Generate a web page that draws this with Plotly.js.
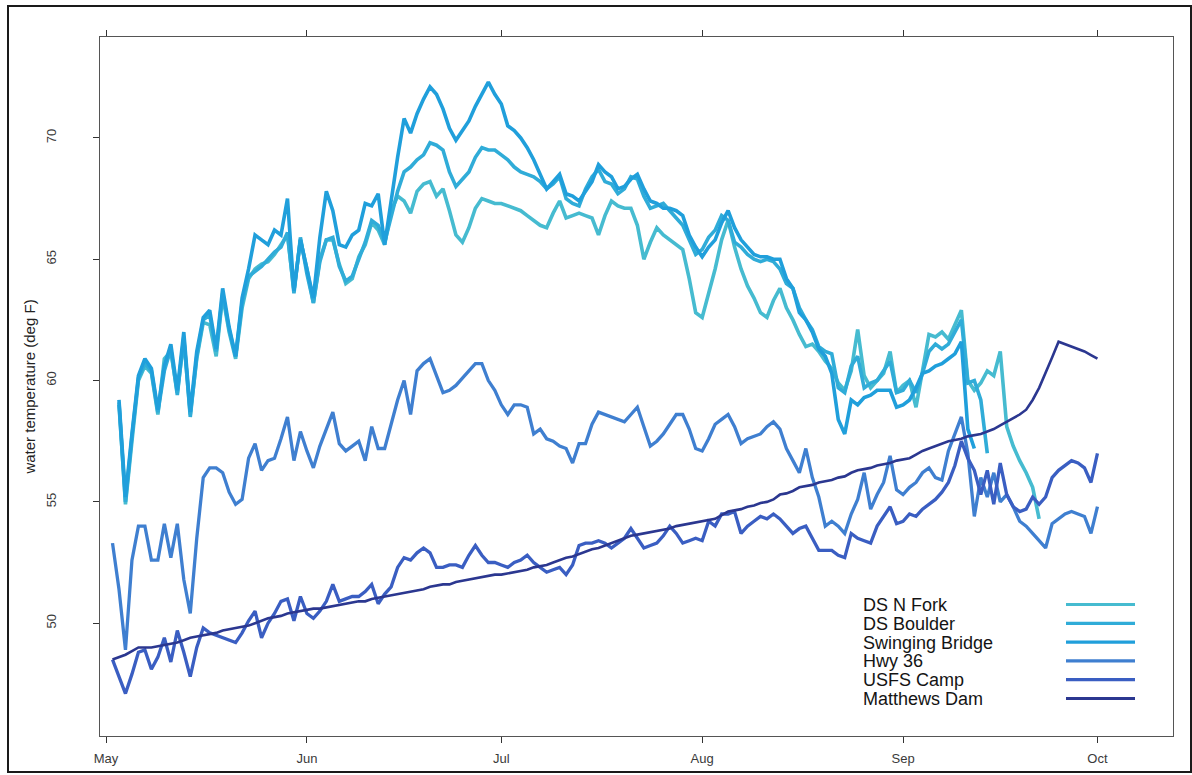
<!DOCTYPE html>
<html>
<head>
<meta charset="utf-8">
<script src="https://cdn.plot.ly/plotly-3.0.1.min.js"></script>
<style>
  html, body { margin: 0; padding: 0; background: #ffffff; }
  #wrap { position: relative; width: 1192px; height: 775px; }
  #chart { width: 1192px; height: 775px; }
  #frame { position: absolute; left: 7px; top: 5px; width: 1181px; height: 764px;
           border: 2px solid #1a1a1a; pointer-events: none; }
</style>
</head>
<body>
<div id="wrap">
  <div id="chart"></div>
  <div id="frame"></div>
</div>
<script>
// ---- data (daily water temperature, deg F), first day = 2 May, last day = 1 Oct ----
const firstDay = '2013-05-02';
const seriesNames = ['DS N Fork', 'DS Boulder', 'Swinging Bridge', 'Hwy 36', 'USFS Camp', 'Matthews Dam'];
const seriesColors = ['#46bbd0', '#30acd8', '#209fdb', '#3f7fd0', '#3a5ec2', '#2b3790'];

const dsNFork = [null,
  59.1, 54.9, 57.5, 60.0, 60.6, 60.3, 58.6, 60.9, 61.2,
  59.5, 61.7, 58.6, 60.9, 62.4, 62.3, 61.0, 63.5, 62.0, 60.9,
  63.0, 64.2, 64.6, 64.8, 64.9, 65.2, 65.6, 66.0, 63.7, 65.8,
  64.6, 63.2, 65.0, 65.8, 65.8, 64.8, 64.0, 64.2, 65.1, 65.6,
  66.5, 66.2, 65.6, 67.0, 67.6, 67.4, 66.9, 67.8, 68.1, 68.2,
  67.6, 67.9, 67.0, 66.0, 65.7, 66.3, 67.1, 67.5, 67.4, 67.3,
  67.3, 67.2, 67.1, 67.0, 66.8, 66.6, 66.4, 66.3, 66.9, 67.4,
  66.7, 66.8, 66.9, 66.8, 66.7, 66.0, 66.8, 67.4, 67.2, 67.1,
  67.1, 66.4, 65.0, 65.7, 66.3, 66.0, 65.8, 65.6, 65.4, 64.2,
  62.8, 62.6, 63.6, 64.6, 65.8, 66.6, 65.5, 64.6, 63.9, 63.4,
  62.8, 62.6, 63.3, 63.8, 63.0, 62.5, 61.9, 61.4, 61.5, 61.2,
  60.8, 60.5, 59.9, 59.6, 60.4, 62.1, 60.2, 59.7, 60.0, 60.3,
  61.2, 59.5, 59.8, 60.0, 58.9, 60.5, 61.9, 61.8, 62.0, 61.7,
  62.3, 62.9, 60.0, 59.6, 59.9, 60.4, 60.2, 61.2, 58.1, 57.3,
  56.7, 56.2, 55.6, 54.3,
  null, null, null, null, null, null, null, null, null];

const dsBoulder = [null,
  59.0, 55.0, 57.7, 60.1, 60.7, 60.4, 58.7, 60.4, 61.3,
  59.4, 61.8, 58.5, 61.0, 62.5, 62.7, 61.2, 63.6, 62.1, 61.0,
  63.2, 64.3, 64.5, 64.7, 65.0, 65.3, 65.5, 66.1, 63.6, 65.9,
  64.4, 63.2, 64.9, 65.8, 65.9, 64.7, 64.1, 64.3, 65.0, 65.7,
  66.6, 66.4, 65.7, 66.8, 67.8, 68.6, 68.8, 69.1, 69.3, 69.8,
  69.7, 69.5, 68.6, 68.0, 68.3, 68.6, 69.2, 69.6, 69.5, 69.5,
  69.3, 69.1, 68.8, 68.6, 68.5, 68.4, 68.2, 67.9, 68.1, 68.4,
  67.5, 67.3, 67.2, 67.9, 68.4, 68.7, 68.2, 68.1, 67.7, 67.9,
  68.4, 68.3, 67.6, 67.1, 67.2, 67.3, 67.0, 66.7, 66.4, 65.8,
  65.2, 65.4, 65.9, 66.2, 66.8, 66.6, 65.7, 65.5, 65.2, 65.0,
  64.9, 65.0, 64.9, 64.6, 64.0, 63.8, 63.0, 62.5, 62.1, 61.4,
  61.2, 61.1, 59.7, 59.5, 60.6, 61.0, 59.7, 59.9, 60.0, 60.4,
  60.8, 59.5, 59.6, 60.0, 59.5, 60.3, 61.2, 61.5, 61.3, 61.5,
  62.0, 62.5, 59.9, 60.0, 59.2, 57.0,
  null, null, null, null, null, null, null, null, null, null,
  null, null, null, null, null, null, null];

const swingingBridge = [null,
  59.2, 55.2, 57.8, 60.2, 60.9, 60.5, 58.8, 60.6, 61.5,
  59.6, 62.0, 58.7, 61.2, 62.6, 62.9, 61.3, 63.8, 62.2, 61.0,
  63.4, 64.6, 66.0, 65.8, 65.6, 66.2, 66.0, 67.5, 63.7, 65.8,
  64.6, 63.4, 65.9, 67.8, 67.0, 65.6, 65.5, 66.0, 66.2, 67.3,
  67.2, 67.7, 65.6, 67.5, 69.2, 70.8, 70.2, 71.0, 71.6, 72.1,
  71.8, 71.2, 70.4, 69.9, 70.3, 70.7, 71.3, 71.8, 72.3, 71.8,
  71.4, 70.5, 70.3, 70.0, 69.6, 69.1, 68.5, 67.9, 68.2, 68.5,
  67.7, 67.6, 67.4, 67.8, 68.2, 68.9, 68.6, 68.4, 67.9, 68.0,
  68.3, 68.5, 67.9, 67.4, 67.3, 67.1, 67.1, 67.0, 66.8, 66.0,
  65.5, 65.1, 65.5, 65.8, 66.5, 67.0, 66.3, 65.8, 65.5, 65.2,
  65.1, 65.1, 65.0, 65.0, 64.2, 63.8, 62.8, 62.5, 62.0, 61.3,
  61.0, 60.3, 58.4, 57.8, 59.2, 59.0, 59.3, 59.4, 59.6, 59.6,
  59.6, 58.9, 59.0, 59.2, 59.7, 60.3, 60.4, 60.6, 60.7, 60.9,
  61.1, 61.6, 58.0, 57.2,
  null, null, null, null, null, null, null, null, null, null,
  null, null, null, null, null, null, null, null, null];

const hwy36 = [
  53.3, 51.4, 48.9, 52.6, 54.0, 54.0, 52.6, 52.6, 54.1, 52.7,
  54.1, 51.8, 50.4, 53.5, 56.0, 56.4, 56.4, 56.2, 55.4, 54.9,
  55.1, 56.8, 57.4, 56.3, 56.7, 56.8, 57.6, 58.5, 56.7, 57.9,
  57.1, 56.4, 57.3, 58.0, 58.7, 57.4, 57.1, 57.3, 57.5, 56.7,
  58.1, 57.2, 57.2, 58.2, 59.2, 60.0, 58.6, 60.4, 60.7, 60.9,
  60.2, 59.5, 59.6, 59.8, 60.1, 60.4, 60.7, 60.7, 60.0, 59.6,
  59.0, 58.6, 59.0, 59.0, 58.9, 57.8, 58.0, 57.6, 57.5, 57.3,
  57.2, 56.6, 57.4, 57.4, 58.2, 58.7, 58.6, 58.5, 58.4, 58.3,
  58.6, 58.9, 58.1, 57.3, 57.5, 57.8, 58.2, 58.6, 58.6, 58.0,
  57.2, 57.1, 57.6, 58.2, 58.4, 58.6, 58.1, 57.4, 57.6, 57.7,
  57.8, 58.1, 58.3, 58.0, 57.2, 56.7, 56.2, 57.2, 56.0, 55.2,
  54.0, 54.2, 54.0, 53.7, 54.5, 55.1, 56.2, 54.7, 55.3, 55.8,
  56.9, 55.5, 55.3, 55.6, 55.8, 56.2, 56.4, 56.0, 55.9, 57.1,
  57.8, 58.5, 57.0, 54.4, 56.0, 55.2, 56.2, 55.0, 55.3, 54.8,
  54.2, 54.0, 53.7, 53.4, 53.1, 54.1, 54.3, 54.5, 54.6, 54.5,
  54.4, 53.7, 54.8];

const usfsCamp = [
  48.5, 47.8, 47.1, 47.9, 48.8, 48.9, 48.1, 48.6, 49.4, 48.4,
  49.7, 48.8, 47.8, 49.0, 49.8, 49.6, 49.5, 49.4, 49.3, 49.2,
  49.6, 50.1, 50.5, 49.4, 50.0, 50.4, 50.9, 51.0, 50.1, 51.1,
  50.4, 50.2, 50.5, 50.9, 51.6, 50.9, 51.0, 51.1, 51.1, 51.3,
  51.6, 50.8, 51.2, 51.5, 52.3, 52.7, 52.6, 52.9, 53.1, 52.9,
  52.3, 52.3, 52.4, 52.4, 52.3, 52.8, 53.2, 52.8, 52.5, 52.5,
  52.4, 52.3, 52.5, 52.6, 52.8, 52.5, 52.3, 52.1, 52.2, 52.3,
  52.0, 52.4, 53.2, 53.3, 53.3, 53.4, 53.3, 53.1, 53.3, 53.5,
  53.9, 53.5, 53.1, 53.2, 53.3, 53.6, 54.0, 53.7, 53.3, 53.4,
  53.5, 53.4, 54.2, 54.0, 54.5, 54.5, 54.6, 53.7, 54.0, 54.2,
  54.4, 54.3, 54.5, 54.3, 54.0, 53.7, 53.9, 54.0, 53.5, 53.0,
  53.0, 53.0, 52.8, 52.7, 53.7, 53.5, 53.4, 53.3, 54.0, 54.4,
  54.8, 54.1, 54.2, 54.5, 54.4, 54.7, 54.9, 55.1, 55.4, 55.8,
  56.5, 57.5, 56.8, 56.3, 55.3, 56.3, 54.9, 56.6, 55.3, 54.8,
  54.6, 54.7, 55.2, 54.9, 55.2, 56.0, 56.3, 56.5, 56.7, 56.6,
  56.4, 55.8, 57.0];

const matthewsDam = [
  48.5, 48.6, 48.7, 48.85, 49.0, 49.0, 49.0, 49.05, 49.1, 49.15,
  49.2, 49.3, 49.4, 49.45, 49.5, 49.55, 49.6, 49.7, 49.75, 49.8,
  49.85, 49.9, 50.0, 50.1, 50.2, 50.25, 50.3, 50.4, 50.45, 50.5,
  50.55, 50.6, 50.6, 50.65, 50.7, 50.75, 50.8, 50.85, 50.9, 50.9,
  51.0, 51.05, 51.1, 51.15, 51.2, 51.25, 51.3, 51.35, 51.4, 51.5,
  51.55, 51.6, 51.6, 51.7, 51.75, 51.8, 51.85, 51.9, 51.95, 52.0,
  52.0, 52.05, 52.1, 52.15, 52.2, 52.3, 52.35, 52.4, 52.5, 52.6,
  52.7, 52.75, 52.85, 52.95, 53.05, 53.1, 53.2, 53.3, 53.4, 53.5,
  53.6, 53.65, 53.7, 53.75, 53.8, 53.85, 53.9, 54.0, 54.05, 54.1,
  54.15, 54.2, 54.25, 54.3, 54.45, 54.6, 54.65, 54.7, 54.8, 54.85,
  54.95, 55.0, 55.1, 55.3, 55.35, 55.45, 55.6, 55.65, 55.7, 55.8,
  55.85, 55.9, 56.0, 56.05, 56.2, 56.3, 56.35, 56.4, 56.5, 56.55,
  56.6, 56.7, 56.75, 56.8, 56.95, 57.1, 57.2, 57.3, 57.4, 57.5,
  57.55, 57.6, 57.7, 57.75, 57.8, 57.9, 58.0, 58.15, 58.3, 58.45,
  58.6, 58.8, 59.2, 59.7, 60.3, 60.95, 61.6, 61.5, 61.4, 61.3,
  61.2, 61.05, 60.9];

const monthTickDates = ['2013-05-01', '2013-06-01', '2013-07-01', '2013-08-01', '2013-09-01', '2013-10-01'];
const monthTickLabels = ['May', 'Jun', 'Jul', 'Aug', 'Sep', 'Oct'];
const yTickValues = [50, 55, 60, 65, 70];

// ---- build daily date axis ----
function dailyDates(start, n) {
  const out = [];
  const t0 = Date.parse(start + 'T00:00:00Z');
  for (let i = 0; i < n; i++) {
    out.push(new Date(t0 + i * 86400000).toISOString().slice(0, 10));
  }
  return out;
}
const allSeries = [dsNFork, dsBoulder, swingingBridge, hwy36, usfsCamp, matthewsDam];
const dates = dailyDates(firstDay, matthewsDam.length);
const widths = [3.6, 3.6, 3.6, 3.3, 3.3, 2.6];

const traces = allSeries.map((vals, k) => ({
  type: 'scatter', mode: 'lines', name: seriesNames[k],
  x: dates, y: vals, connectgaps: false,
  line: { color: seriesColors[k], width: widths[k] },
  showlegend: false, hoverinfo: 'skip'
}));

// ---- geometry (plot area) ----
const W = 1192, H = 775;
const mL = 100, mR = 19, mT = 37, mB = 39;
const pw = W - mL - mR, ph = H - mT - mB;
const px = v => (v - mL) / pw;
const py = v => (H - mB - v) / ph;

// legend in the original's style: label on the left, line sample on the right
const annotations = [];
const shapes = [];
const legY0 = 605, legStep = 18.8;
seriesNames.forEach((nm, k) => {
  const yc = legY0 + k * legStep;
  annotations.push({
    xref: 'paper', yref: 'paper', x: px(862), y: py(yc),
    xanchor: 'left', yanchor: 'middle', showarrow: false,
    borderpad: 0,
    text: nm, font: { family: 'Liberation Sans, Arial, sans-serif', size: 18, color: '#141414' }
  });
  shapes.push({
    type: 'line', xref: 'paper', yref: 'paper',
    x0: px(1066), x1: px(1135), y0: py(yc - 0.5), y1: py(yc - 0.5),
    line: { color: seriesColors[k], width: 3.2 }
  });
});

const layout = {
  width: W, height: H,
  margin: { l: mL, r: mR, t: mT, b: mB, pad: 0 },
  paper_bgcolor: '#ffffff', plot_bgcolor: '#ffffff',
  font: { family: 'Liberation Sans, Arial, sans-serif', color: '#333' },
  showlegend: false,
  xaxis: {
    type: 'date',
    range: ['2013-04-30 01:40', '2013-10-12 15:50'],
    tickmode: 'array', tickvals: monthTickDates, ticktext: monthTickLabels,
    ticks: 'outside', ticklen: 6, tickwidth: 1, tickcolor: '#333',
    showline: true, linecolor: '#555', linewidth: 1, mirror: 'ticks',
    showgrid: false, zeroline: false,
    tickfont: { size: 13, color: '#3a3a3a' },
    ticklabelstandoff: 4
  },
  yaxis: {
    range: [45.35, 74.16],
    tickmode: 'array', tickvals: yTickValues, ticktext: yTickValues.map(String),
    tickangle: -90,
    ticks: 'outside', ticklen: 6, tickwidth: 1, tickcolor: '#333',
    showline: true, linecolor: '#555', linewidth: 1, mirror: true,
    showgrid: false, zeroline: false,
    tickfont: { size: 13, color: '#3a3a3a' },
    ticklabelstandoff: 32,
    title: { text: 'water temperature (deg F)', font: { size: 15, color: '#222' }, standoff: 4 }
  },
  annotations: annotations,
  shapes: shapes
};

Plotly.newPlot('chart', traces, layout, { displayModeBar: false, staticPlot: true });
</script>
</body>
</html>
